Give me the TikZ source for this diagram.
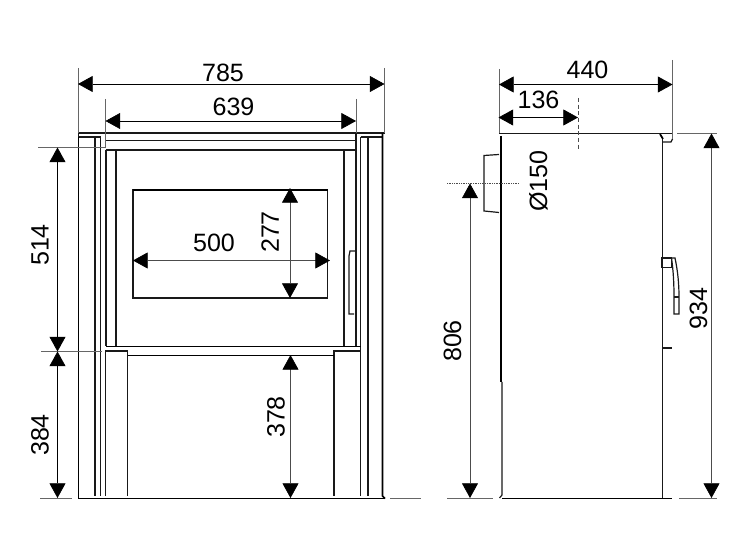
\documentclass[tikz,border=0pt]{standalone}
\usepackage{fontspec}
\setmainfont{Liberation Sans}
\usetikzlibrary{arrows.meta}
\tikzset{
  dim/.style={line width=0.5pt,{Triangle[length=11pt,width=12pt,color=black]}-{Triangle[length=11pt,width=12pt,color=black]}},
  ext/.style={line width=0.4pt,black!60},
  thin ext/.style={line width=0.3pt,black!70},
  part/.style={line width=0.9pt,black!90},
  heavy/.style={line width=1.3pt,black},
  size/.style={font=\fontsize{18.8}{20}\selectfont,inner sep=0pt},
  vsize/.style={size,rotate=90}
}
\begin{document}
\begin{tikzpicture}[x=0.75pt,y=-0.75pt]
        \useasboundingbox (0,0) rectangle (750,555);

        \coordinate (A_1) at (78,84);
        \coordinate (A_2) at (384.5,84);
        \coordinate (B_1) at (105.5,121);
        \coordinate (B_2) at (356,121);
        \coordinate (C_1) at (133,260.5);
        \coordinate (C_2) at (330,260.5);
        \coordinate (D_1) at (290,188);
        \coordinate (D_2) at (290,298);
        \coordinate (E_1) at (57.5,147.5);
        \coordinate (E_2) at (57.5,351.5);
        \coordinate (F_2) at (57.5,498);
        \coordinate (G_1) at (290.5,355);
        \coordinate (G_2) at (290.5,498);
        \coordinate (H_1) at (499,84.5);
        \coordinate (H_2) at (672.5,84.5);
        \coordinate (J_1) at (498.5,117.5);
        \coordinate (J_2) at (578,117.5);
        \coordinate (K_1) at (470,183.5);
        \coordinate (K_2) at (470,498);
        \coordinate (L_1) at (711.5,133.5);
        \coordinate (L_2) at (711.5,498);

        % front view
        \draw[heavy] (78.5,137) -- (78.5,498.5) -- (385,498.5);
        \draw[part] (78.5,137) -- (78.5,133) -- (385,133);
        \draw[part] (105.5,140.5) -- (356,140.5);
        \draw[part] (105.5,150) -- (356,150);
        \draw[part] (78.5,137) -- (100.5,137);
        \draw[part] (360.5,137) -- (382.5,137);
        \draw[part] (95,137) -- (95,496);
        \draw[part] (100.5,137) -- (100.5,496);
        \draw[part] (360.5,137) -- (360.5,496);
        \draw[part] (368,137) -- (368,496);
        \draw[heavy] (382.5,133) -- (382.5,496) -- (385,498.5);
        \draw[part] (106,150) -- (106,346.5);
        \draw[part] (116,150) -- (116,346.5);
        \draw[part] (344,150) -- (344,346.5);
        \draw[part] (356,133) -- (356,346.5);
        \draw[heavy] (106,346.5) -- (360.5,346.5);
        \draw[part] (127.5,351) -- (105.5,351) -- (105.5,496);
        \draw[part] (127.5,351) -- (127.5,496);
        \draw[part] (334,496) -- (334,351) -- (360.5,351);
        \draw[heavy] (127.5,355.5) -- (334,355.5);
        \draw[part] (133,190) rectangle (327.5,298);
        \draw[heavy] (133,190) -- (327.5,190);
        \draw[part] (355,251) -- (350,251) -- (349,256) -- (349,314) -- (354,314);

        % side view
        \draw[part] (499,133.5) -- (672,133.5);
        \draw[part] (662.5,139) -- (662.5,498.5);
        \draw[part] (502,382) -- (502,495) -- (499.5,498);
        \draw[heavy] (502,498.5) -- (672,498.5);
        \draw[line width=2pt] (501,136) -- (501,382);
        \draw[part] (499,154.5) -- (484,155.5) -- (484,211) -- (499,212.5);
        \draw[part] (662,258) rectangle (671.5,267.5);
        \draw[part] (662,258) -- (675,258) .. controls (678,272) and (679,285) .. (679,297) -- (679,314) -- (674,314) -- (674,297) .. controls (674,285) and (673.5,272) .. (671.5,258);
        \draw[part] (674,297) -- (679,297);
        \draw[part] (662,348) -- (672,348);
        \draw[heavy] (660,134) -- (663,139);
        \draw[part] (663,142) -- (671,142) -- (672.5,139);

        % extension lines
        \draw[ext] (78,68) -- (78,133);
        \draw[ext] (384.5,68) -- (384.5,133);
        \draw[ext] (105.5,99) -- (105.5,148);
        \draw[ext] (356,99) -- (356,133);
        \draw[ext] (38,147.5) -- (106,147.5);
        \draw[ext] (41,351.5) -- (102,351.5);
        \draw[ext] (40,498.5) -- (72,498.5);
        \draw[ext] (390,498.5) -- (421,498.5);
        \draw[ext] (499,69) -- (499,133);
        \draw[ext,line width=0.7pt] (672.5,60) -- (672.5,139);
        \draw[thin ext,densely dashed] (578.5,98) -- (578.5,149);
        \draw[thin ext,densely dotted] (447,183.5) -- (519,183.5);
        \draw[ext] (447,498.5) -- (493,498.5);
        \draw[ext] (677,133.5) -- (717,133.5);
        \draw[ext] (679,498.5) -- (717,498.5);

        % dimensions
        \draw[dim] (A_1) -- (A_2);
        \draw[dim] (B_1) -- (B_2);
        \draw[dim,black!70] (C_1) -- (C_2);
        \draw[dim,black!70] (D_1) -- (D_2);
        \draw[dim] (E_1) -- (E_2);
        \draw[dim] (E_2) -- (F_2);
        \draw[dim,black!70] (G_1) -- (G_2);
        \draw[dim] (H_1) -- (H_2);
        \draw[dim] (J_1) -- (J_2);
        \draw[dim,black!70] (K_1) -- (K_2);
        \draw[dim,black!70] (L_1) -- (L_2);

        \node[size] (T_1) at (223,72.5) {785};
        \node[size] (T_2) at (233.5,107) {639};
        \node[size] (T_3) at (214,243) {500};
        \node[vsize] (T_4) at (270,232) {277};
        \node[vsize] (T_5) at (40,245) {514};
        \node[vsize] (T_6) at (40,435) {384};
        \node[vsize] (T_7) at (276,417) {378};
        \node[size] (T_8) at (587.5,69.5) {440};
        \node[size] (T_9) at (538.5,99.5) {136};
        \node[vsize] (T_10) at (538.5,181) {Ø150};
        \node[vsize] (T_11) at (452.5,341) {806};
        \node[vsize] (T_12) at (698.5,308.5) {934};
    \end{tikzpicture}
\end{document}
